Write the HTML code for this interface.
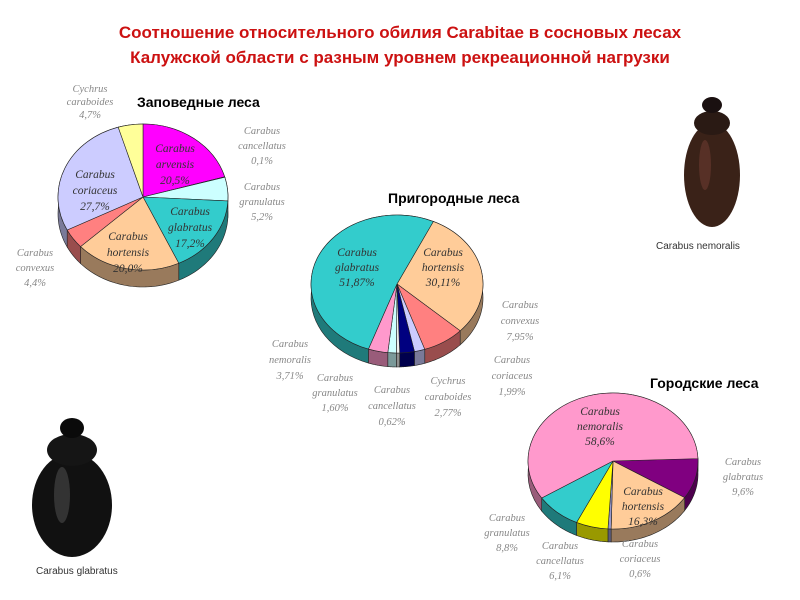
<!DOCTYPE html>
<html><head><meta charset="utf-8"><style>
body{margin:0;background:#fff;width:800px;height:600px;overflow:hidden}
svg{display:block}
.t{font-family:"Liberation Sans",sans-serif;font-weight:bold;font-size:17px;fill:#cc1111}
.pt{font-family:"Liberation Sans","DejaVu Sans",sans-serif;font-weight:bold;font-size:14px;fill:#000}
.in{font-family:"Liberation Serif",serif;font-style:italic;font-size:11.5px;fill:#333}
.out{font-family:"Liberation Serif",serif;font-style:italic;font-size:10.5px;fill:#888}
.cap{font-family:"Liberation Sans",sans-serif;font-size:10px;fill:#333}
</style></head><body>
<svg id="s" width="800" height="600" viewBox="0 0 800 600">
<text class="t" x="400" y="38" text-anchor="middle">Соотношение относительного обилия Carabitae в сосновых лесах</text>
<text class="t" x="400" y="63" text-anchor="middle">Калужской области с разным уровнем рекреационной нагрузки</text>
<g>
<ellipse cx="712" cy="175" rx="28" ry="52" fill="#3a2218"/>
<ellipse cx="712" cy="123" rx="18" ry="12" fill="#2a1a14"/>
<ellipse cx="712" cy="105" rx="10" ry="8" fill="#1a1010"/>
<ellipse cx="705" cy="165" rx="6" ry="25" fill="#6a3a30" opacity=".6"/>
</g>
<text class="cap" x="656" y="249">Carabus nemoralis</text>
<g>
<ellipse cx="72" cy="505" rx="40" ry="52" fill="#111"/>
<ellipse cx="72" cy="450" rx="25" ry="16" fill="#151515"/>
<ellipse cx="72" cy="428" rx="12" ry="10" fill="#0a0a0a"/>
<ellipse cx="62" cy="495" rx="8" ry="28" fill="#555" opacity=".5"/>
</g>
<text class="cap" x="36" y="574">Carabus glabratus</text>
<text class="pt" x="137" y="107">Заповедные леса</text>
<text class="pt" x="388" y="203">Пригородные леса</text>
<text class="pt" x="650" y="388">Городские леса</text>
<g id="pies"></g>
<g>
<text class="in" text-anchor="middle"><tspan x="175" y="152">Carabus</tspan><tspan x="175" y="168">arvensis</tspan><tspan x="175" y="184">20,5%</tspan></text>
<text class="in" text-anchor="middle"><tspan x="95" y="178">Carabus</tspan><tspan x="95" y="194">coriaceus</tspan><tspan x="95" y="210">27,7%</tspan></text>
<text class="in" text-anchor="middle"><tspan x="190" y="215">Carabus</tspan><tspan x="190" y="231">glabratus</tspan><tspan x="190" y="247">17,2%</tspan></text>
<text class="in" text-anchor="middle"><tspan x="128" y="240">Carabus</tspan><tspan x="128" y="256">hortensis</tspan><tspan x="128" y="272">20,0%</tspan></text>
<text class="out" text-anchor="middle"><tspan x="90" y="92">Cychrus</tspan><tspan x="90" y="105">caraboides</tspan><tspan x="90" y="118">4,7%</tspan></text>
<text class="out" text-anchor="middle"><tspan x="262" y="134">Carabus</tspan><tspan x="262" y="149">cancellatus</tspan><tspan x="262" y="164">0,1%</tspan></text>
<text class="out" text-anchor="middle"><tspan x="262" y="190">Carabus</tspan><tspan x="262" y="205">granulatus</tspan><tspan x="262" y="220">5,2%</tspan></text>
<text class="out" text-anchor="middle"><tspan x="35" y="256">Carabus</tspan><tspan x="35" y="271">convexus</tspan><tspan x="35" y="286">4,4%</tspan></text>
<text class="in" text-anchor="middle"><tspan x="357" y="256">Carabus</tspan><tspan x="357" y="271">glabratus</tspan><tspan x="357" y="286">51,87%</tspan></text>
<text class="in" text-anchor="middle"><tspan x="443" y="256">Carabus</tspan><tspan x="443" y="271">hortensis</tspan><tspan x="443" y="286">30,11%</tspan></text>
<text class="out" text-anchor="middle"><tspan x="520" y="308">Carabus</tspan><tspan x="520" y="324">convexus</tspan><tspan x="520" y="340">7,95%</tspan></text>
<text class="out" text-anchor="middle"><tspan x="512" y="363">Carabus</tspan><tspan x="512" y="379">coriaceus</tspan><tspan x="512" y="395">1,99%</tspan></text>
<text class="out" text-anchor="middle"><tspan x="290" y="347">Carabus</tspan><tspan x="290" y="363">nemoralis</tspan><tspan x="290" y="379">3,71%</tspan></text>
<text class="out" text-anchor="middle"><tspan x="335" y="381">Carabus</tspan><tspan x="335" y="396">granulatus</tspan><tspan x="335" y="411">1,60%</tspan></text>
<text class="out" text-anchor="middle"><tspan x="392" y="393">Carabus</tspan><tspan x="392" y="409">cancellatus</tspan><tspan x="392" y="425">0,62%</tspan></text>
<text class="out" text-anchor="middle"><tspan x="448" y="384">Cychrus</tspan><tspan x="448" y="400">caraboides</tspan><tspan x="448" y="416">2,77%</tspan></text>
<text class="in" text-anchor="middle"><tspan x="600" y="415">Carabus</tspan><tspan x="600" y="430">nemoralis</tspan><tspan x="600" y="445">58,6%</tspan></text>
<text class="in" text-anchor="middle"><tspan x="643" y="495">Carabus</tspan><tspan x="643" y="510">hortensis</tspan><tspan x="643" y="525">16,3%</tspan></text>
<text class="out" text-anchor="middle"><tspan x="743" y="465">Carabus</tspan><tspan x="743" y="480">glabratus</tspan><tspan x="743" y="495">9,6%</tspan></text>
<text class="out" text-anchor="middle"><tspan x="507" y="521">Carabus</tspan><tspan x="507" y="536">granulatus</tspan><tspan x="507" y="551">8,8%</tspan></text>
<text class="out" text-anchor="middle"><tspan x="560" y="549">Carabus</tspan><tspan x="560" y="564">cancellatus</tspan><tspan x="560" y="579">6,1%</tspan></text>
<text class="out" text-anchor="middle"><tspan x="640" y="547">Carabus</tspan><tspan x="640" y="562">coriaceus</tspan><tspan x="640" y="577">0,6%</tspan></text>
</g>
</svg>
<script>
const pie1Names=["arvensis","cancellatus","granulatus","glabratus","hortensis","convexus","coriaceus","cychrus"];
const pie1Values=[20.5,0.1,5.2,17.2,20.0,4.4,27.7,4.7];
const pie1Colors=["#ff00ff","#ffffff","#ccffff","#33cccc","#ffcc99","#ff8080","#ccccff","#ffff99"];
const pie2Names=["hortensis","convexus","coriaceus","cychrus","cancellatus","granulatus","nemoralis","glabratus"];
const pie2Values=[30.11,7.95,1.99,2.77,0.62,1.60,3.71,51.87];
const pie2Colors=["#ffcc99","#ff8080","#ccccff","#000080","#eeeeee","#ccffff","#ff99cc","#33cccc"];
const pie3Names=["glabratus","hortensis","coriaceus","cancellatus","granulatus","nemoralis"];
const pie3Values=[9.6,16.3,0.6,6.1,8.8,58.6];
const pie3Colors=["#800080","#ffcc99","#9999cc","#ffff00","#33cccc","#ff99cc"];
const NS="http://www.w3.org/2000/svg";
const host=document.getElementById('pies');
function dark(c){const n=parseInt(c.slice(1),16);const f=v=>Math.round(v*0.6).toString(16).padStart(2,'0');return '#'+f(n>>16)+f((n>>8)&255)+f(n&255);}
function pie(id,names,vals,cols,cx,cy,rx,ry,d,start){
  const g=document.createElementNS(NS,'g');
  
  
  host.appendChild(g);
  const tot=vals.reduce((a,b)=>a+b,0);
  const P=(a,dy)=>[cx+rx*Math.sin(a),cy-ry*Math.cos(a)+dy];
  let a=start*Math.PI/180;const segs=[];
  vals.forEach((v,i)=>{const a1=a+v/tot*2*Math.PI;segs.push([a,a1,i]);a=a1;});
  segs.forEach(([a0,a1,i])=>{
    const steps=40;let pts=[];
    for(let k=0;k<=steps;k++){pts.push(P(a0+(a1-a0)*k/steps,0));}
    let back=[];for(let k=steps;k>=0;k--){back.push(P(a0+(a1-a0)*k/steps,d));}
    const p=document.createElementNS(NS,'path');
    p.setAttribute('d','M'+pts.concat(back).map(q=>q.join(',')).join('L')+'Z');
    p.setAttribute('fill',dark(cols[i]));p.setAttribute('stroke','#222');p.setAttribute('stroke-width','0.6');
    
    
    g.appendChild(p);
  });
  segs.forEach(([a0,a1,i])=>{
    const p0=P(a0,0),p1=P(a1,0);const large=(a1-a0)>Math.PI?1:0;
    const p=document.createElementNS(NS,'path');
    p.setAttribute('d',`M${cx},${cy}L${p0[0]},${p0[1]}A${rx},${ry} 0 ${large} 1 ${p1[0]},${p1[1]}Z`);
    p.setAttribute('fill',cols[i]);p.setAttribute('stroke','#222');p.setAttribute('stroke-width','0.6');
    
    
    g.appendChild(p);
  });
}
pie('pie-reserve',pie1Names,pie1Values,pie1Colors,143,197,85,73,17,0);
pie('pie-suburban',pie2Names,pie2Values,pie2Colors,397,284,86,69,14,25);
pie('pie-urban',pie3Names,pie3Values,pie3Colors,613,461,85,68,13,88);
</script>
</body></html>
